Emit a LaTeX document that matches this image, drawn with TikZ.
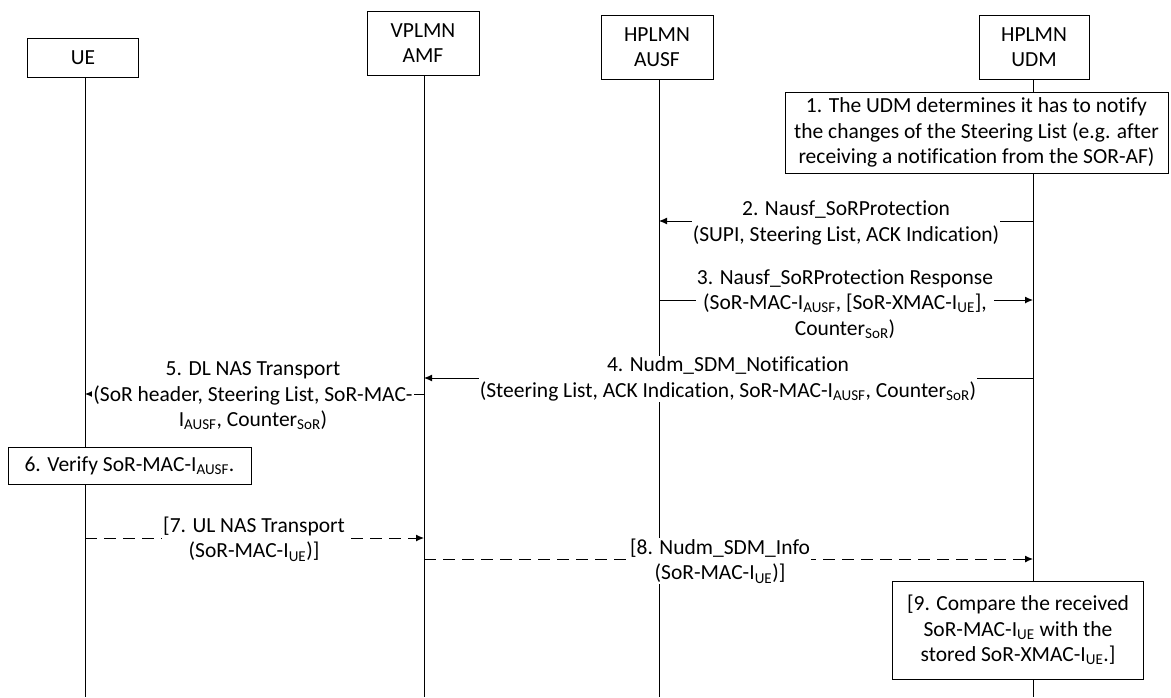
\documentclass[tikz,border=0pt]{standalone}
\usepackage{fontspec}
\setmainfont{Carlito}[Ligatures=CommonOff]
\usetikzlibrary{arrows.meta}
\newcommand{\sub}[1]{\textsubscript{#1}}
\begin{document}
\begin{tikzpicture}[x=1pt,y=-1pt,
  every node/.style={font=\fontsize{21.5}{25.5}\selectfont, text=black},
  entity/.style={draw, line width=1pt, fill=white, align=center, inner sep=0pt},
  notebox/.style={draw, line width=1pt, fill=white, align=center, inner sep=0pt},
  lbl/.style={fill=white, align=center, inner sep=1pt},
  life/.style={line width=1pt},
  msg/.style={line width=1pt, -{Latex[length=8pt,width=7pt]}},
  dmsg/.style={msg, dash pattern=on 12pt off 7pt}
]
\useasboundingbox (0,0) rectangle (1171,697);

% entities
\node[entity, minimum width=111pt, minimum height=39pt] (ue) at (83,57.5) {UE};
\node[entity, minimum width=112pt, minimum height=64pt] (amf) at (423,43) {VPLMN\\AMF};
\node[entity, minimum width=112pt, minimum height=64pt] (ausf) at (657,47) {HPLMN\\AUSF};
\node[entity, minimum width=110pt, minimum height=64pt] (udm) at (1034,47) {HPLMN\\UDM};

% lifeline ends
\coordinate (ueb) at (85,697);
\coordinate (amfb) at (424,697);
\coordinate (ausfb) at (659,697);
\coordinate (udmb) at (1033,697);
\coordinate (uet) at (85,77);
\coordinate (amft) at (424,75);
\coordinate (ausft) at (659,79);
\coordinate (udmt) at (1033,79);

\draw[life] (uet) -- (ueb);
\draw[life] (amft) -- (amfb);
\draw[life] (ausft) -- (ausfb);
\draw[life] (udmt) -- (udmb);

% step 1
\node[notebox, minimum width=383pt, minimum height=81pt] (s1) at (976.5,132.5)
  {1. The UDM determines it has to notify\\the changes of the Steering List (e.g. after\\receiving a notification from the SOR-AF)};

% messages
\draw[msg] (udmt |- 0,221) -- (ausft |- 0,221);
\node[lbl] (l2) at (846,223) {2. Nausf\_SoRProtection\\(SUPI, Steering List, ACK Indication)};

\draw[msg] (ausft |- 0,300) -- (udmt |- 0,300);
\node[lbl] (l3) at (845,304) {3. Nausf\_SoRProtection Response\\(SoR-MAC-I\sub{AUSF}, [SoR-XMAC-I\sub{UE}],\\Counter\sub{SoR})};

\draw[msg] (udmt |- 0,378) -- (amft |- 0,378);
\node[lbl] (l4) at (728,379) {4. Nudm\_SDM\_Notification\\(Steering List, ACK Indication, SoR-MAC-I\sub{AUSF}, Counter\sub{SoR})};

\draw[msg] (amft |- 0,394) -- (uet |- 0,394);
\node[lbl] (l5) at (253,396) {5. DL NAS Transport\\(SoR header, Steering List, SoR-MAC-\\I\sub{AUSF}, Counter\sub{SoR})};

% step 6
\node[notebox, minimum width=243pt, minimum height=37pt] (s6) at (129.5,465.5) {6. Verify SoR-MAC-I\sub{AUSF}.};

\draw[dmsg] (uet |- 0,538) -- (amft |- 0,538);
\node[lbl] (l7) at (254,539) {[7. UL NAS Transport\\(SoR-MAC-I\sub{UE})]};

\draw[dmsg] (amft |- 0,559) -- (udmt |- 0,559);
\node[lbl] (l8) at (720,561) {[8. Nudm\_SDM\_Info\\(SoR-MAC-I\sub{UE})]};

% step 9
\node[notebox, minimum width=251pt, minimum height=98pt] (s9) at (1018,630)
  {[9. Compare the received\\SoR-MAC-I\sub{UE} with the\\stored SoR-XMAC-I\sub{UE}.]};
\end{tikzpicture}
\end{document}
